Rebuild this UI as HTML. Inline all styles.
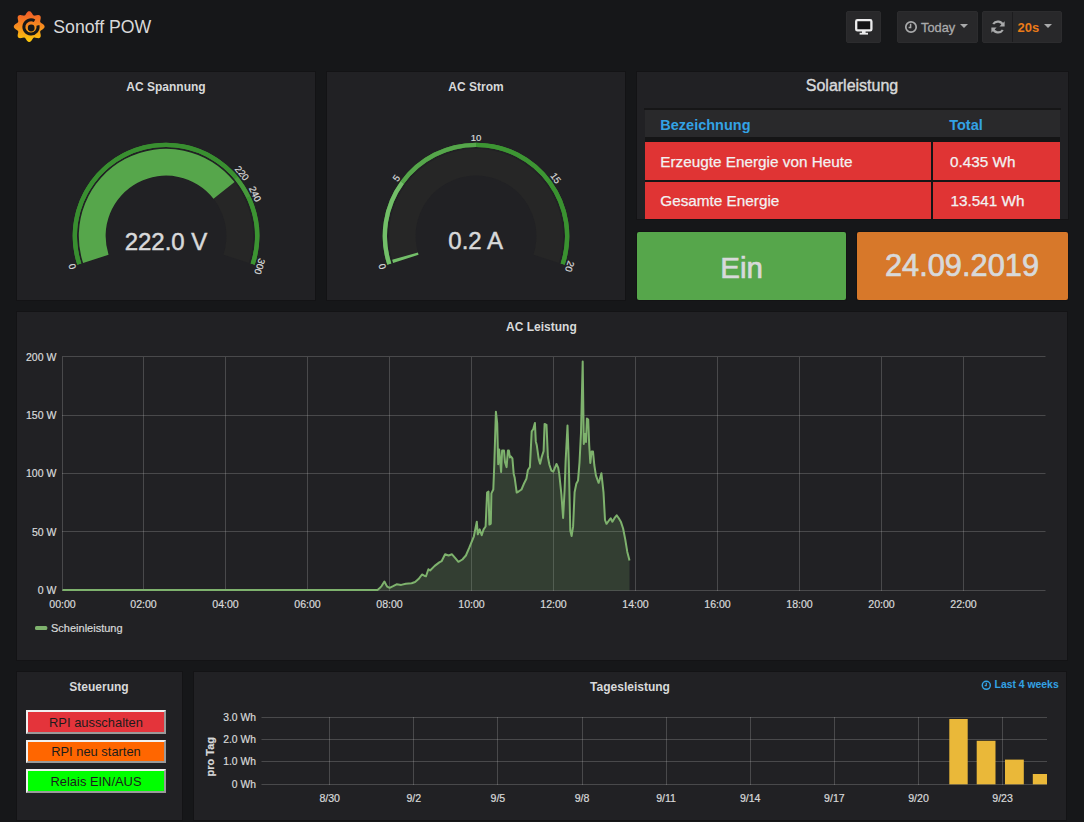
<!DOCTYPE html>
<html><head><meta charset="utf-8"><title>Sonoff POW</title>
<style>
html,body{margin:0;padding:0;}
body{width:1084px;height:822px;background:#161719;position:relative;overflow:hidden;font-family:"Liberation Sans", sans-serif;}
.t{position:absolute;white-space:nowrap;}
.p{position:absolute;box-sizing:border-box;box-shadow:0 0 0 1px #131315;}
.ov{position:absolute;left:0;top:0;}
.nb{position:absolute;top:11px;height:32px;box-sizing:border-box;background:#28282a;border:1px solid #2c2c2e;border-radius:2px;}
.car{position:absolute;width:0;height:0;border-left:4px solid transparent;border-right:4px solid transparent;border-top:4px solid #a9aaab;}
.b{position:absolute;left:26px;width:140px;box-sizing:border-box;border:2px solid;border-color:#f0f0f0 #9a9a9a #9a9a9a #f0f0f0;
   display:flex;align-items:center;justify-content:center;font-size:12.9px;color:#1c1c1c;}
</style></head>
<body>
<svg style="position:absolute;left:12px;top:9px" width="34" height="35" viewBox="0 0 34 35">
<defs><linearGradient id="lg" x1="0" y1="0" x2="0" y2="1">
<stop offset="0" stop-color="#f05a28"/><stop offset="0.5" stop-color="#f68d1f"/><stop offset="1" stop-color="#fbca0a"/></linearGradient></defs>
<path fill="url(#lg)" d="M32.60 17.60 L32.56 18.00 L32.43 18.40 L32.23 18.78 L31.96 19.15 L31.63 19.50 L31.25 19.83 L30.85 20.13 L30.43 20.41 L30.01 20.68 L29.61 20.93 L29.25 21.17 L28.92 21.41 L28.65 21.65 L28.44 21.91 L28.29 22.19 L28.20 22.50 L28.16 22.83 L28.18 23.20 L28.24 23.59 L28.33 24.02 L28.43 24.48 L28.54 24.96 L28.64 25.46 L28.71 25.96 L28.74 26.46 L28.73 26.94 L28.66 27.39 L28.54 27.81 L28.34 28.18 L28.09 28.49 L27.78 28.74 L27.41 28.94 L26.99 29.06 L26.54 29.13 L26.06 29.14 L25.56 29.11 L25.06 29.04 L24.56 28.94 L24.08 28.83 L23.63 28.73 L23.19 28.64 L22.80 28.58 L22.43 28.56 L22.10 28.60 L21.79 28.69 L21.51 28.84 L21.25 29.05 L21.01 29.32 L20.77 29.65 L20.53 30.01 L20.28 30.41 L20.01 30.83 L19.73 31.25 L19.43 31.65 L19.10 32.03 L18.75 32.36 L18.38 32.63 L18.00 32.83 L17.60 32.96 L17.20 33.00 L16.80 32.96 L16.40 32.83 L16.02 32.63 L15.65 32.36 L15.30 32.03 L14.97 31.65 L14.67 31.25 L14.39 30.83 L14.12 30.41 L13.87 30.01 L13.63 29.65 L13.39 29.32 L13.15 29.05 L12.89 28.84 L12.61 28.69 L12.30 28.60 L11.97 28.56 L11.60 28.58 L11.21 28.64 L10.78 28.73 L10.32 28.83 L9.84 28.94 L9.34 29.04 L8.84 29.11 L8.34 29.14 L7.86 29.13 L7.41 29.06 L6.99 28.94 L6.62 28.74 L6.31 28.49 L6.06 28.18 L5.86 27.81 L5.74 27.39 L5.67 26.94 L5.66 26.46 L5.69 25.96 L5.76 25.46 L5.86 24.96 L5.97 24.48 L6.07 24.02 L6.16 23.59 L6.22 23.20 L6.24 22.83 L6.20 22.50 L6.11 22.19 L5.96 21.91 L5.75 21.65 L5.48 21.41 L5.15 21.17 L4.79 20.93 L4.39 20.68 L3.97 20.41 L3.55 20.13 L3.15 19.83 L2.77 19.50 L2.44 19.15 L2.17 18.78 L1.97 18.40 L1.84 18.00 L1.80 17.60 L1.84 17.20 L1.97 16.80 L2.17 16.42 L2.44 16.05 L2.77 15.70 L3.15 15.37 L3.55 15.07 L3.97 14.79 L4.39 14.52 L4.79 14.27 L5.15 14.03 L5.48 13.79 L5.75 13.55 L5.96 13.29 L6.11 13.01 L6.20 12.70 L6.24 12.37 L6.22 12.00 L6.16 11.61 L6.07 11.18 L5.97 10.72 L5.86 10.24 L5.76 9.74 L5.69 9.24 L5.66 8.74 L5.67 8.26 L5.74 7.81 L5.86 7.39 L6.06 7.02 L6.31 6.71 L6.62 6.46 L6.99 6.26 L7.41 6.14 L7.86 6.07 L8.34 6.06 L8.84 6.09 L9.34 6.16 L9.84 6.26 L10.32 6.37 L10.77 6.47 L11.21 6.56 L11.60 6.62 L11.97 6.64 L12.30 6.60 L12.61 6.51 L12.89 6.36 L13.15 6.15 L13.39 5.88 L13.63 5.55 L13.87 5.19 L14.12 4.79 L14.39 4.37 L14.67 3.95 L14.97 3.55 L15.30 3.17 L15.65 2.84 L16.02 2.57 L16.40 2.37 L16.80 2.24 L17.20 2.20 L17.60 2.24 L18.00 2.37 L18.38 2.57 L18.75 2.84 L19.10 3.17 L19.43 3.55 L19.73 3.95 L20.01 4.37 L20.28 4.79 L20.53 5.19 L20.77 5.55 L21.01 5.88 L21.25 6.15 L21.51 6.36 L21.79 6.51 L22.10 6.60 L22.43 6.64 L22.80 6.62 L23.19 6.56 L23.62 6.47 L24.08 6.37 L24.56 6.26 L25.06 6.16 L25.56 6.09 L26.06 6.06 L26.54 6.07 L26.99 6.14 L27.41 6.26 L27.78 6.46 L28.09 6.71 L28.34 7.02 L28.54 7.39 L28.66 7.81 L28.73 8.26 L28.74 8.74 L28.71 9.24 L28.64 9.74 L28.54 10.24 L28.43 10.72 L28.33 11.18 L28.24 11.61 L28.18 12.00 L28.16 12.37 L28.20 12.70 L28.29 13.01 L28.44 13.29 L28.65 13.55 L28.92 13.79 L29.25 14.03 L29.61 14.27 L30.01 14.52 L30.43 14.79 L30.85 15.07 L31.25 15.37 L31.63 15.70 L31.96 16.05 L32.23 16.42 L32.43 16.80 L32.56 17.20Z"/>
<path fill="none" stroke="#161719" stroke-width="3" d="M25.94 16.42 A7.1 7.1 0 1 1 22.55 11.75"/>
<circle cx="19.2" cy="19.0" r="3.4" fill="#161719"/>
</svg>
<div class="t" style="left:53.30px;top:19.42px;font-size:17.7px;line-height:17.7px;color:#d8d9da;">Sonoff POW</div>
<div class="nb" style="left:846px;width:35px"></div>
<svg style="position:absolute;left:855px;top:18.6px" width="19" height="17" viewBox="0 0 19 17">
<rect x="1.2" y="1.2" width="15.2" height="10.2" rx="1.2" fill="#141416" stroke="#ececed" stroke-width="2.3"/>
<rect x="7" y="12" width="3.6" height="2.4" fill="#ececed"/><rect x="4.6" y="13.8" width="8.4" height="1.8" fill="#ececed"/></svg>
<div class="nb" style="left:897px;width:81px"></div>
<svg style="position:absolute;left:904px;top:20px" width="14" height="14" viewBox="0 0 14 14">
<circle cx="7" cy="7" r="5.2" fill="none" stroke="#a9aaab" stroke-width="1.7"/>
<path d="M6.6 3.8 V7.4 H4.6" fill="none" stroke="#a9aaab" stroke-width="1.5"/></svg>
<div class="t" style="left:921.00px;top:21.76px;font-size:12.8px;line-height:12.8px;color:#a9aaab;-webkit-text-stroke:0.3px #a9aaab;">Today</div>
<div class="car" style="left:960px;top:24px"></div>
<div class="nb" style="left:982px;width:80px"></div>
<div style="position:absolute;left:1012px;top:12px;width:1px;height:30px;background:#1c1c1e"></div>
<svg style="position:absolute;left:990px;top:19px" width="16" height="16" viewBox="0 0 16 16">
<path d="M13.2 6.6 A5.6 5.6 0 0 0 3.2 5" fill="none" stroke="#a9aaab" stroke-width="2.2"/>
<path d="M14.6 2.2 L14.6 7.6 L9.4 7.6 Z" fill="#a9aaab"/>
<path d="M2.8 9.4 A5.6 5.6 0 0 0 12.8 11" fill="none" stroke="#a9aaab" stroke-width="2.2"/>
<path d="M1.4 13.8 L1.4 8.4 L6.6 8.4 Z" fill="#a9aaab"/></svg>
<div class="t" style="left:1017.50px;top:21.00px;font-size:13px;line-height:13px;font-weight:bold;color:#eb7b18;">20s</div>
<div class="car" style="left:1044px;top:24px"></div>
<div class="p" style="left:17px;top:72px;width:298px;height:228px;background:#212124;"></div>
<div class="p" style="left:327px;top:72px;width:298px;height:228px;background:#212124;"></div>
<div class="p" style="left:637px;top:72px;width:431px;height:147px;background:#212124;"></div>
<div class="p" style="left:637px;top:232px;width:209px;height:68px;background:#56a64b;border-radius:2px;"></div>
<div class="p" style="left:857px;top:232px;width:211px;height:68px;background:#d7782a;border-radius:2px;"></div>
<div class="p" style="left:17px;top:312px;width:1050px;height:348px;background:#212124;"></div>
<div class="p" style="left:17px;top:672px;width:165px;height:148px;background:#212124;"></div>
<div class="p" style="left:194px;top:672px;width:872px;height:148px;background:#212124;"></div>
<svg class="ov" width="1084" height="822" style="font-family:"Liberation Sans", sans-serif"><path d="M83.07 262.95 A87.2 87.2 0 1 1 248.93 262.95 L223.44 254.66 A60.4 60.4 0 1 0 108.56 254.66Z" fill="#262626"/>
<path d="M83.07 262.95 A87.2 87.2 0 0 1 234.56 182.12 L213.49 198.68 A60.4 60.4 0 0 0 108.56 254.66Z" fill="#56a64b"/>
<path d="M77.27 264.83 A93.3 93.3 0 1 1 254.73 264.83 L250.64 263.50 A89.0 89.0 0 1 0 81.36 263.50Z" fill="#3c9432"/>
<path d="M77.27 264.83 A93.3 93.3 0 0 1 237.89 176.53 L234.58 179.27 A89.0 89.0 0 0 0 81.36 263.50Z" fill="#398f30"/>
<path d="M237.89 176.53 A93.3 93.3 0 0 1 250.42 196.27 L246.53 198.11 A89.0 89.0 0 0 0 234.58 179.27Z" fill="#46993b"/>
<path d="M250.42 196.27 A93.3 93.3 0 0 1 254.73 264.83 L250.64 263.50 A89.0 89.0 0 0 0 246.53 198.11Z" fill="#3c9432"/>
<text x="75.46" y="265.42" transform="rotate(252.00 75.46 265.42)" text-anchor="middle" font-size="9.6" fill="#d8d9da" stroke="#d8d9da" stroke-width="0.2">0</text>
<text x="239.35" y="175.32" transform="rotate(410.40 239.35 175.32)" text-anchor="middle" font-size="9.6" fill="#d8d9da" stroke="#d8d9da" stroke-width="0.2">220</text>
<text x="252.14" y="195.47" transform="rotate(424.80 252.14 195.47)" text-anchor="middle" font-size="9.6" fill="#d8d9da" stroke="#d8d9da" stroke-width="0.2">240</text>
<text x="256.54" y="265.42" transform="rotate(468.00 256.54 265.42)" text-anchor="middle" font-size="9.6" fill="#d8d9da" stroke="#d8d9da" stroke-width="0.2">300</text>
<path d="M393.07 262.95 A87.2 87.2 0 1 1 558.93 262.95 L533.44 254.66 A60.4 60.4 0 1 0 418.56 254.66Z" fill="#262626"/>
<path d="M393.07 262.95 A87.2 87.2 0 0 1 392.11 259.80 L417.89 252.49 A60.4 60.4 0 0 0 418.56 254.66Z" fill="#73bf69"/>
<path d="M387.27 264.83 A93.3 93.3 0 1 1 564.73 264.83 L560.64 263.50 A89.0 89.0 0 1 0 391.36 263.50Z" fill="#3a9230"/>
<path d="M387.27 264.83 A93.3 93.3 0 0 1 400.52 181.16 L404.00 183.69 A89.0 89.0 0 0 0 391.36 263.50Z" fill="#73bf69"/>
<path d="M400.52 181.16 A93.3 93.3 0 0 1 476.00 142.70 L476.00 147.00 A89.0 89.0 0 0 0 404.00 183.69Z" fill="#56a64b"/>
<path d="M476.00 142.70 A93.3 93.3 0 0 1 551.48 181.16 L548.00 183.69 A89.0 89.0 0 0 0 476.00 147.00Z" fill="#3d9633"/>
<path d="M551.48 181.16 A93.3 93.3 0 0 1 564.73 264.83 L560.64 263.50 A89.0 89.0 0 0 0 548.00 183.69Z" fill="#3a9230"/>
<text x="385.46" y="265.42" transform="rotate(252.00 385.46 265.42)" text-anchor="middle" font-size="9.6" fill="#d8d9da" stroke="#d8d9da" stroke-width="0.2">0</text>
<text x="398.98" y="180.04" transform="rotate(306.00 398.98 180.04)" text-anchor="middle" font-size="9.6" fill="#d8d9da" stroke="#d8d9da" stroke-width="0.2">5</text>
<text x="476.00" y="140.80" transform="rotate(360.00 476.00 140.80)" text-anchor="middle" font-size="9.6" fill="#d8d9da" stroke="#d8d9da" stroke-width="0.2">10</text>
<text x="553.02" y="180.04" transform="rotate(414.00 553.02 180.04)" text-anchor="middle" font-size="9.6" fill="#d8d9da" stroke="#d8d9da" stroke-width="0.2">15</text>
<text x="566.54" y="265.42" transform="rotate(468.00 566.54 265.42)" text-anchor="middle" font-size="9.6" fill="#d8d9da" stroke="#d8d9da" stroke-width="0.2">20</text></svg>
<div class="t" style="left:-134.00px;width:600px;text-align:center;top:80.84px;font-size:12px;line-height:12px;font-weight:bold;color:#d8d9da;">AC Spannung</div>
<div class="t" style="left:176.00px;width:600px;text-align:center;top:80.84px;font-size:12px;line-height:12px;font-weight:bold;color:#d8d9da;">AC Strom</div>
<div class="t" style="left:-134.00px;width:600px;text-align:center;top:229.58px;font-size:24px;line-height:24px;color:#d8d9da;-webkit-text-stroke:0.5px #d8d9da;">222.0 V</div>
<div class="t" style="left:175.70px;width:600px;text-align:center;top:228.88px;font-size:24px;line-height:24px;color:#d8d9da;-webkit-text-stroke:0.5px #d8d9da;">0.2 A</div>
<div class="t" style="left:552.00px;width:600px;text-align:center;top:78.06px;font-size:16px;line-height:16px;color:#d8d9da;-webkit-text-stroke:0.4px #d8d9da;">Solarleistung</div>
<div style="position:absolute;left:644px;top:108px;width:417px;height:2px;background:#161617"></div>
<div style="position:absolute;left:645px;top:110px;width:415px;height:27px;background:#29292b"></div>
<div style="position:absolute;left:645px;top:137px;width:415px;height:5px;background:#151516"></div>
<div style="position:absolute;left:645px;top:142px;width:286px;height:38px;background:#e03434"></div>
<div style="position:absolute;left:933px;top:142px;width:127px;height:38px;background:#e03434"></div>
<div style="position:absolute;left:645px;top:180px;width:415px;height:2px;background:#151516"></div>
<div style="position:absolute;left:931px;top:142px;width:2px;height:77px;background:#151516"></div>
<div style="position:absolute;left:645px;top:182px;width:286px;height:37px;background:#e03434"></div>
<div style="position:absolute;left:933px;top:182px;width:127px;height:37px;background:#e03434"></div>
<div class="t" style="left:660.30px;top:117.63px;font-size:14.5px;line-height:14.5px;font-weight:bold;color:#33a2e5;">Bezeichnung</div>
<div class="t" style="left:949.20px;top:117.63px;font-size:14.5px;line-height:14.5px;font-weight:bold;color:#33a2e5;">Total</div>
<div class="t" style="left:660.30px;top:153.75px;font-size:15.3px;line-height:15.3px;color:#f2f2f2;-webkit-text-stroke:0.25px #f2f2f2;">Erzeugte Energie von Heute</div>
<div class="t" style="left:950.00px;top:153.55px;font-size:15.3px;line-height:15.3px;color:#f2f2f2;-webkit-text-stroke:0.25px #f2f2f2;">0.435 Wh</div>
<div class="t" style="left:660.30px;top:192.75px;font-size:15.3px;line-height:15.3px;color:#f2f2f2;-webkit-text-stroke:0.25px #f2f2f2;">Gesamte Energie</div>
<div class="t" style="left:950.50px;top:192.75px;font-size:15.3px;line-height:15.3px;color:#f2f2f2;-webkit-text-stroke:0.25px #f2f2f2;">13.541 Wh</div>
<div class="t" style="left:441.70px;width:600px;text-align:center;top:252.53px;font-size:29.5px;line-height:29.5px;color:#d8d9da;-webkit-text-stroke:0.7px #d8d9da;">Ein</div>
<div class="t" style="left:662.00px;width:600px;text-align:center;top:251.43px;font-size:30.8px;line-height:30.8px;color:#d8d9da;-webkit-text-stroke:0.7px #d8d9da;">24.09.2019</div>
<div class="t" style="left:241.40px;width:600px;text-align:center;top:320.84px;font-size:12px;line-height:12px;font-weight:bold;color:#d8d9da;">AC Leistung</div>
<svg class="ov" width="1084" height="822" style="font-family:"Liberation Sans", sans-serif"><line x1="62.5" y1="357" x2="62.5" y2="591" stroke="rgba(200,200,200,0.24)"/>
<line x1="143.5" y1="357" x2="143.5" y2="591" stroke="rgba(200,200,200,0.24)"/>
<line x1="225.5" y1="357" x2="225.5" y2="591" stroke="rgba(200,200,200,0.24)"/>
<line x1="307.5" y1="357" x2="307.5" y2="591" stroke="rgba(200,200,200,0.24)"/>
<line x1="389.5" y1="357" x2="389.5" y2="591" stroke="rgba(200,200,200,0.24)"/>
<line x1="471.5" y1="357" x2="471.5" y2="591" stroke="rgba(200,200,200,0.24)"/>
<line x1="553.5" y1="357" x2="553.5" y2="591" stroke="rgba(200,200,200,0.24)"/>
<line x1="635.5" y1="357" x2="635.5" y2="591" stroke="rgba(200,200,200,0.24)"/>
<line x1="717.5" y1="357" x2="717.5" y2="591" stroke="rgba(200,200,200,0.24)"/>
<line x1="799.5" y1="357" x2="799.5" y2="591" stroke="rgba(200,200,200,0.24)"/>
<line x1="881.5" y1="357" x2="881.5" y2="591" stroke="rgba(200,200,200,0.24)"/>
<line x1="963.5" y1="357" x2="963.5" y2="591" stroke="rgba(200,200,200,0.24)"/>
<line x1="62" y1="356.5" x2="1045.5" y2="356.5" stroke="rgba(200,200,200,0.24)"/>
<line x1="62" y1="415.5" x2="1045.5" y2="415.5" stroke="rgba(200,200,200,0.24)"/>
<line x1="62" y1="473.5" x2="1045.5" y2="473.5" stroke="rgba(200,200,200,0.24)"/>
<line x1="62" y1="531.5" x2="1045.5" y2="531.5" stroke="rgba(200,200,200,0.24)"/>
<line x1="62" y1="590.5" x2="1045.5" y2="590.5" stroke="rgba(200,200,200,0.24)"/>
<path d="M62.5 590 L377.5 590 L379.2 588.6 L381.6 586.1 L384.4 581.5 L386.2 584.9 L387.3 586.7 L389.6 587.8 L393.1 586.1 L396.6 584.3 L401.2 584.9 L405.8 583.8 L411.6 583.2 L415.1 582 L418.5 579.1 L422 574.5 L424.3 575.7 L426 576.3 L428.4 569.3 L430.1 570.5 L434.7 565.9 L439.3 562.4 L441.6 561.2 L445.1 554.3 L448.6 555.5 L452 554.3 L455.5 558.4 L458.4 561.8 L462.4 559.5 L465.9 555.5 L469.4 547.4 L473.9 536.3 L476.8 521.7 L477.8 534.3 L479.7 529.4 L481.7 535.3 L483.6 529.4 L485.6 526.5 L487.1 492.5 L488.5 491.5 L489.4 524.6 L490.8 523.6 L491.4 493.4 L493.3 489.5 L494.3 464.2 L495.9 411.7 L497.2 423.4 L498.2 464.2 L499.2 449.6 L500.1 460.3 L501.1 472 L502.1 450.6 L504 450.6 L505 462.2 L506.6 467.1 L507.9 450.6 L508.9 450.6 L509.9 457.4 L510.8 456.4 L512.4 458.4 L513.7 473.9 L514.7 477.8 L516.7 492.5 L518.6 491.5 L521.5 489.5 L524.4 482.7 L526.4 478.8 L527.9 470 L529.9 467.1 L531.7 431.4 L533.2 429.2 L534.9 422.9 L535.8 441.4 L536.8 445.3 L538.7 458.9 L540.1 463.7 L541.7 457 L543.6 451.1 L544.6 423.9 L546.5 424.9 L547.9 457 L549.4 464.7 L551.4 470.6 L553.3 471.6 L556.5 464 L558.2 467.6 L559.3 474.3 L561.4 494.5 L563.1 517.9 L564.6 490.2 L565.6 461.5 L567.5 425.5 L568.8 462.6 L570.3 530.6 L571.6 536 L573.1 526.4 L574.6 492.3 L576.3 483.8 L578 480.6 L579.5 462.6 L581 432.8 L582.7 361.6 L583.8 444 L585 434 L586 442 L586.9 418.5 L588.2 419.5 L589.2 445 L590.3 463 L591.6 451.5 L593 451.5 L594.3 465 L595.9 475.3 L598.6 482.8 L599.7 479.6 L601.4 473.2 L603.5 492.3 L605 520 L606.5 523.8 L609.3 520 L610.7 518.3 L612.4 521.7 L614.6 517.9 L616.7 515.3 L618.8 518.3 L621 522.1 L623.1 528.5 L625.2 539.1 L627.3 551.9 L629.5 560.4 L629.5 590.5 L62.5 590.5 Z" fill="rgba(126,178,109,0.2)"/>
<path d="M62.5 590 L377.5 590 L379.2 588.6 L381.6 586.1 L384.4 581.5 L386.2 584.9 L387.3 586.7 L389.6 587.8 L393.1 586.1 L396.6 584.3 L401.2 584.9 L405.8 583.8 L411.6 583.2 L415.1 582 L418.5 579.1 L422 574.5 L424.3 575.7 L426 576.3 L428.4 569.3 L430.1 570.5 L434.7 565.9 L439.3 562.4 L441.6 561.2 L445.1 554.3 L448.6 555.5 L452 554.3 L455.5 558.4 L458.4 561.8 L462.4 559.5 L465.9 555.5 L469.4 547.4 L473.9 536.3 L476.8 521.7 L477.8 534.3 L479.7 529.4 L481.7 535.3 L483.6 529.4 L485.6 526.5 L487.1 492.5 L488.5 491.5 L489.4 524.6 L490.8 523.6 L491.4 493.4 L493.3 489.5 L494.3 464.2 L495.9 411.7 L497.2 423.4 L498.2 464.2 L499.2 449.6 L500.1 460.3 L501.1 472 L502.1 450.6 L504 450.6 L505 462.2 L506.6 467.1 L507.9 450.6 L508.9 450.6 L509.9 457.4 L510.8 456.4 L512.4 458.4 L513.7 473.9 L514.7 477.8 L516.7 492.5 L518.6 491.5 L521.5 489.5 L524.4 482.7 L526.4 478.8 L527.9 470 L529.9 467.1 L531.7 431.4 L533.2 429.2 L534.9 422.9 L535.8 441.4 L536.8 445.3 L538.7 458.9 L540.1 463.7 L541.7 457 L543.6 451.1 L544.6 423.9 L546.5 424.9 L547.9 457 L549.4 464.7 L551.4 470.6 L553.3 471.6 L556.5 464 L558.2 467.6 L559.3 474.3 L561.4 494.5 L563.1 517.9 L564.6 490.2 L565.6 461.5 L567.5 425.5 L568.8 462.6 L570.3 530.6 L571.6 536 L573.1 526.4 L574.6 492.3 L576.3 483.8 L578 480.6 L579.5 462.6 L581 432.8 L582.7 361.6 L583.8 444 L585 434 L586 442 L586.9 418.5 L588.2 419.5 L589.2 445 L590.3 463 L591.6 451.5 L593 451.5 L594.3 465 L595.9 475.3 L598.6 482.8 L599.7 479.6 L601.4 473.2 L603.5 492.3 L605 520 L606.5 523.8 L609.3 520 L610.7 518.3 L612.4 521.7 L614.6 517.9 L616.7 515.3 L618.8 518.3 L621 522.1 L623.1 528.5 L625.2 539.1 L627.3 551.9 L629.5 560.4" fill="none" stroke="#7eb26d" stroke-width="2" stroke-linejoin="round"/>
<text x="56.4" y="360.7" text-anchor="end" font-size="10.5" fill="#d8d9da" stroke="#d8d9da" stroke-width="0.2">200 W</text>
<text x="56.4" y="419.0" text-anchor="end" font-size="10.5" fill="#d8d9da" stroke="#d8d9da" stroke-width="0.2">150 W</text>
<text x="56.4" y="477.3" text-anchor="end" font-size="10.5" fill="#d8d9da" stroke="#d8d9da" stroke-width="0.2">100 W</text>
<text x="56.4" y="535.7" text-anchor="end" font-size="10.5" fill="#d8d9da" stroke="#d8d9da" stroke-width="0.2">50 W</text>
<text x="56.4" y="594.0" text-anchor="end" font-size="10.5" fill="#d8d9da" stroke="#d8d9da" stroke-width="0.2">0 W</text>
<text x="62.5" y="607.6" text-anchor="middle" font-size="10.6" fill="#d8d9da" stroke="#d8d9da" stroke-width="0.2">00:00</text>
<text x="143.5" y="607.6" text-anchor="middle" font-size="10.6" fill="#d8d9da" stroke="#d8d9da" stroke-width="0.2">02:00</text>
<text x="225.5" y="607.6" text-anchor="middle" font-size="10.6" fill="#d8d9da" stroke="#d8d9da" stroke-width="0.2">04:00</text>
<text x="307.5" y="607.6" text-anchor="middle" font-size="10.6" fill="#d8d9da" stroke="#d8d9da" stroke-width="0.2">06:00</text>
<text x="389.5" y="607.6" text-anchor="middle" font-size="10.6" fill="#d8d9da" stroke="#d8d9da" stroke-width="0.2">08:00</text>
<text x="471.5" y="607.6" text-anchor="middle" font-size="10.6" fill="#d8d9da" stroke="#d8d9da" stroke-width="0.2">10:00</text>
<text x="553.5" y="607.6" text-anchor="middle" font-size="10.6" fill="#d8d9da" stroke="#d8d9da" stroke-width="0.2">12:00</text>
<text x="635.5" y="607.6" text-anchor="middle" font-size="10.6" fill="#d8d9da" stroke="#d8d9da" stroke-width="0.2">14:00</text>
<text x="717.5" y="607.6" text-anchor="middle" font-size="10.6" fill="#d8d9da" stroke="#d8d9da" stroke-width="0.2">16:00</text>
<text x="799.5" y="607.6" text-anchor="middle" font-size="10.6" fill="#d8d9da" stroke="#d8d9da" stroke-width="0.2">18:00</text>
<text x="881.5" y="607.6" text-anchor="middle" font-size="10.6" fill="#d8d9da" stroke="#d8d9da" stroke-width="0.2">20:00</text>
<text x="963.5" y="607.6" text-anchor="middle" font-size="10.6" fill="#d8d9da" stroke="#d8d9da" stroke-width="0.2">22:00</text>
<rect x="35" y="626" width="12.3" height="4" rx="1.5" fill="#7eb26d"/>
<text x="51" y="632" font-size="11" fill="#d8d9da" stroke="#d8d9da" stroke-width="0.2">Scheinleistung</text>
<line x1="261.5" y1="717.5" x2="1047" y2="717.5" stroke="rgba(200,200,200,0.24)"/>
<line x1="261.5" y1="739.5" x2="1047" y2="739.5" stroke="rgba(200,200,200,0.24)"/>
<line x1="261.5" y1="761.5" x2="1047" y2="761.5" stroke="rgba(200,200,200,0.24)"/>
<line x1="261.5" y1="784.5" x2="1047" y2="784.5" stroke="rgba(200,200,200,0.24)"/>
<line x1="329.5" y1="717" x2="329.5" y2="785" stroke="rgba(200,200,200,0.24)"/>
<text x="329.7" y="802" text-anchor="middle" font-size="10.6" fill="#d8d9da" stroke="#d8d9da" stroke-width="0.2">8/30</text>
<line x1="413.5" y1="717" x2="413.5" y2="785" stroke="rgba(200,200,200,0.24)"/>
<text x="413.8" y="802" text-anchor="middle" font-size="10.6" fill="#d8d9da" stroke="#d8d9da" stroke-width="0.2">9/2</text>
<line x1="497.5" y1="717" x2="497.5" y2="785" stroke="rgba(200,200,200,0.24)"/>
<text x="497.9" y="802" text-anchor="middle" font-size="10.6" fill="#d8d9da" stroke="#d8d9da" stroke-width="0.2">9/5</text>
<line x1="582.5" y1="717" x2="582.5" y2="785" stroke="rgba(200,200,200,0.24)"/>
<text x="582.0" y="802" text-anchor="middle" font-size="10.6" fill="#d8d9da" stroke="#d8d9da" stroke-width="0.2">9/8</text>
<line x1="666.5" y1="717" x2="666.5" y2="785" stroke="rgba(200,200,200,0.24)"/>
<text x="666.1" y="802" text-anchor="middle" font-size="10.6" fill="#d8d9da" stroke="#d8d9da" stroke-width="0.2">9/11</text>
<line x1="750.5" y1="717" x2="750.5" y2="785" stroke="rgba(200,200,200,0.24)"/>
<text x="750.2" y="802" text-anchor="middle" font-size="10.6" fill="#d8d9da" stroke="#d8d9da" stroke-width="0.2">9/14</text>
<line x1="834.5" y1="717" x2="834.5" y2="785" stroke="rgba(200,200,200,0.24)"/>
<text x="834.4" y="802" text-anchor="middle" font-size="10.6" fill="#d8d9da" stroke="#d8d9da" stroke-width="0.2">9/17</text>
<line x1="918.5" y1="717" x2="918.5" y2="785" stroke="rgba(200,200,200,0.24)"/>
<text x="918.5" y="802" text-anchor="middle" font-size="10.6" fill="#d8d9da" stroke="#d8d9da" stroke-width="0.2">9/20</text>
<line x1="1002.5" y1="717" x2="1002.5" y2="785" stroke="rgba(200,200,200,0.24)"/>
<text x="1002.6" y="802" text-anchor="middle" font-size="10.6" fill="#d8d9da" stroke="#d8d9da" stroke-width="0.2">9/23</text>
<text x="255.9" y="721.0" text-anchor="end" font-size="10.3" fill="#d8d9da" stroke="#d8d9da" stroke-width="0.2">3.0 Wh</text>
<text x="255.9" y="743.0" text-anchor="end" font-size="10.3" fill="#d8d9da" stroke="#d8d9da" stroke-width="0.2">2.0 Wh</text>
<text x="255.9" y="765.0" text-anchor="end" font-size="10.3" fill="#d8d9da" stroke="#d8d9da" stroke-width="0.2">1.0 Wh</text>
<text x="255.9" y="788.0" text-anchor="end" font-size="10.3" fill="#d8d9da" stroke="#d8d9da" stroke-width="0.2">0 Wh</text>
<text x="0" y="0" transform="translate(214.4 756.7) rotate(-90)" text-anchor="middle" font-size="11" font-weight="bold" fill="#d8d9da" stroke="#d8d9da" stroke-width="0.2">pro Tag</text>
<rect x="949.3" y="719" width="18.4" height="65.3" fill="#eab839"/>
<rect x="976.7" y="740.8" width="18.8" height="43.5" fill="#eab839"/>
<rect x="1005" y="759.6" width="18.8" height="24.7" fill="#eab839"/>
<rect x="1032.8" y="774" width="14.2" height="10.3" fill="#eab839"/></svg>
<div class="t" style="left:-201.00px;width:600px;text-align:center;top:681.34px;font-size:12px;line-height:12px;font-weight:bold;color:#d8d9da;">Steuerung</div>
<div class="t" style="left:330.00px;width:600px;text-align:center;top:680.84px;font-size:12px;line-height:12px;font-weight:bold;color:#d8d9da;">Tagesleistung</div>
<svg style="position:absolute;left:981px;top:680px" width="11" height="11" viewBox="0 0 11 11">
<circle cx="5.3" cy="5.3" r="4" fill="none" stroke="#33a2e5" stroke-width="1.5"/>
<path d="M5.3 2.8 V5.6 H3.6" fill="none" stroke="#33a2e5" stroke-width="1.2"/></svg>
<div class="t" style="left:458.70px;width:600px;text-align:right;top:680.10px;font-size:10.4px;line-height:10.4px;font-weight:bold;color:#33a2e5;">Last 4 weeks</div>
<div class="b" style="top:710px;height:24px;background:#e4343b"><span>RPI ausschalten</span></div>
<div class="b" style="top:740px;height:23px;background:#ff6600"><span>RPI neu starten</span></div>
<div class="b" style="top:769px;height:24px;background:#00ff00"><span>Relais EIN/AUS</span></div>
</body></html>
